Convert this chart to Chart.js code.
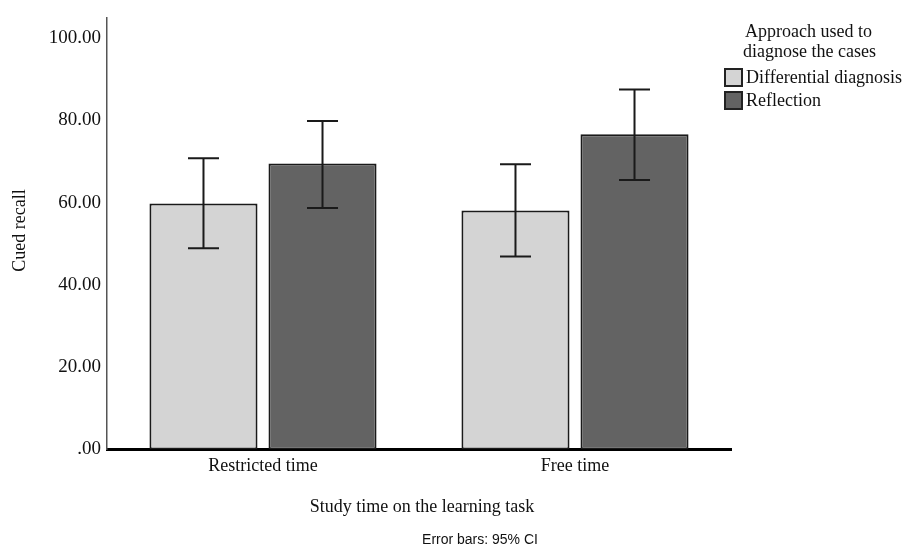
<!DOCTYPE html>
<html>
<head>
<meta charset="utf-8">
<script src="https://cdn.jsdelivr.net/npm/chart.js@4"></script>
<style>
  body { margin: 0; background: #fff; }
  #wrap { width: 915px; height: 551px; }
</style>
</head>
<body>
<div id="wrap"><canvas id="chart" width="915" height="551"></canvas></div>
<script>
// data
const categories = ['Restricted time', 'Free time'];
const seriesNames = ['Differential diagnosis', 'Reflection'];
const diffMean = [59.8, 58.1];
const diffLow = [48.9, 46.9];
const diffHigh = [70.8, 69.3];
const reflMean = [69.5, 76.6];
const reflLow = [58.7, 65.5];
const reflHigh = [79.8, 87.5];
const yTicks = [0, 20, 40, 60, 80, 100];

const serif = '"Liberation Serif", "Times New Roman", serif';
const fills = ['#d4d4d4', '#636363'];
const errLow = [diffLow, reflLow];
const errHigh = [diffHigh, reflHigh];

// error bars, legend and free text
const extras = {
    id: 'extras',
    afterDatasetsDraw(chart) {
        const ctx = chart.ctx;
        const y = chart.scales.y;
        ctx.save();
        ctx.strokeStyle = '#1a1a1a';
        ctx.lineWidth = 2;
        chart.data.datasets.forEach((ds, di) => {
            chart.getDatasetMeta(di).data.forEach((bar, i) => {
                const yt = y.getPixelForValue(errHigh[di][i]);
                const yb = y.getPixelForValue(errLow[di][i]);
                ctx.beginPath();
                ctx.moveTo(bar.x, yt); ctx.lineTo(bar.x, yb);
                ctx.moveTo(bar.x - 15.5, yt); ctx.lineTo(bar.x + 15.5, yt);
                ctx.moveTo(bar.x - 15.5, yb); ctx.lineTo(bar.x + 15.5, yb);
                ctx.stroke();
            });
        });
        ctx.restore();
    },
    afterDraw(chart) {
        const ctx = chart.ctx;
        const area = chart.chartArea;
        ctx.save();
        ctx.fillStyle = '#111';

        // y title
        ctx.font = '18px ' + serif;
        ctx.textAlign = 'center';
        ctx.textBaseline = 'middle';
        ctx.save();
        ctx.translate(20, (area.top + area.bottom) / 2 - 3);
        ctx.rotate(-Math.PI / 2);
        ctx.fillText('Cued recall', 0, 0);
        ctx.restore();

        // x title + footnote
        ctx.fillText('Study time on the learning task', 422, 507);
        ctx.font = '14px "Liberation Sans", Arial, sans-serif';
        ctx.fillText('Error bars: 95% CI', 480, 540);

        // legend
        ctx.font = '18px ' + serif;
        ctx.textAlign = 'left';
        ctx.fillText('Approach used to', 745, 32);
        ctx.fillText('diagnose the cases', 743, 52);
        seriesNames.forEach((name, i) => {
            const top = 69 + i * 23;
            ctx.fillStyle = fills[i];
            ctx.fillRect(725, top, 17, 17);
            ctx.strokeStyle = '#222';
            ctx.lineWidth = 2;
            ctx.strokeRect(725, top, 17, 17);
            ctx.fillStyle = '#111';
            ctx.fillText(name, 746, top + 9);
        });
        ctx.restore();
    }
};

new Chart(document.getElementById('chart'), {
    type: 'bar',
    data: {
        labels: categories,
        datasets: [
            { label: seriesNames[0], data: diffMean, backgroundColor: fills[0] },
            { label: seriesNames[1], data: reflMean, backgroundColor: fills[1] }
        ]
    },
    options: {
        responsive: false,
        animation: false,
        layout: { padding: { top: 14, right: 184, left: 0, bottom: 0 } },
        categoryPercentage: 0.763,
        barPercentage: 0.908,
        datasets: {
            bar: { borderColor: '#1a1a1a', borderWidth: 2, borderSkipped: false }
        },
        plugins: {
            legend: { display: false },
            tooltip: { enabled: false }
        },
        scales: {
            x: {
                grid: { display: false, drawTicks: false },
                border: { display: true, color: '#000', width: 3 },
                ticks: { color: '#111', font: { family: serif, size: 18 }, padding: 6 },
                afterFit(scale) { scale.height = 101.5; }
            },
            y: {
                min: 0,
                max: 105,
                grid: { display: false, drawTicks: false },
                border: { display: true, color: '#555', width: 1.5 },
                afterBuildTicks(scale) { scale.ticks = yTicks.map(v => ({ value: v })); },
                ticks: {
                    color: '#111',
                    font: { family: serif, size: 19 },
                    padding: 6,
                    callback: v => v === 0 ? '.00' : v.toFixed(2)
                },
                afterFit(scale) { scale.width = 107; }
            }
        }
    },
    plugins: [extras]
});
</script>
</body>
</html>
